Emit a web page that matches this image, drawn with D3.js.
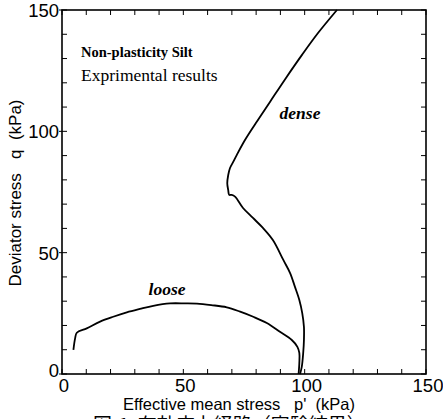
<!DOCTYPE html>
<html>
<head>
<meta charset="utf-8">
<script src="https://cdn.jsdelivr.net/npm/d3@7"></script>
<style>
  body { margin: 0; background: #fff; }
  svg { display: block; overflow: hidden; }
</style>
</head>
<body>
<div id="canvas"></div>
<script>
// values: [p', q] in kPa
const denseP = [98.1, 98.8, 99.4, 99.7, 99.7, 99.0, 97.8, 96.0, 94.0, 91.2, 86.9, 82.8, 78.7, 74.6, 71.3, 69.9, 68.9, 68.5, 68.1, 68.5, 69.2, 70.6, 72.0, 75.4, 79.9, 85.7, 92.3, 98.9, 105.5, 113.3];
const denseQ = [0, 2.9, 8.7, 14.0, 19.4, 25.1, 30.5, 35.9, 41.6, 47.0, 55.2, 60.2, 64.3, 68.4, 73.1, 73.8, 73.8, 75.8, 78.6, 82.0, 84.8, 87.5, 90.2, 96.4, 103.4, 112.1, 122.0, 131.5, 140.5, 150];
const looseP = [4.7, 5.4, 6.1, 10.2, 15.7, 21.1, 26.7, 32.1, 37.6, 44.5, 50.7, 55.6, 61.5, 67.9, 73.4, 78.8, 84.4, 89.8, 94.7, 97.0, 97.8, 97.8, 97.5];
const looseQ = [9.9, 14.7, 17.0, 18.8, 21.6, 23.6, 25.4, 26.8, 28.1, 29.1, 29.1, 29.0, 28.4, 27.5, 25.7, 23.6, 21.0, 17.4, 14.0, 11.2, 8.7, 4.5, 0];
const xTicks = [0, 50, 100, 150];
const yTicks = [0, 50, 100, 150];

const margin = { top: 10, right: 17, bottom: 45, left: 62 };
const W = 443, H = 419;
const width = W - margin.left - margin.right;
const height = H - margin.top - margin.bottom;

const svg = d3.select("#canvas").append("svg")
  .attr("width", W)
  .attr("height", H);

const g = svg.append("g")
  .attr("transform", `translate(${margin.left},${margin.top})`);

const x = d3.scaleLinear().domain([0, 150]).range([0, width]);
const y = d3.scaleLinear().domain([0, 150]).range([height, 0]);

const sans = "'Liberation Sans', Arial, sans-serif";
const serif = "'Liberation Serif', 'Times New Roman', serif";

// minor ticks every 10, inward on all four sides
const minor = d3.range(0, 151, 10);
const tickLen = 5;
g.selectAll(".xb").data(minor).enter().append("line")
  .attr("x1", d => x(d)).attr("x2", d => x(d))
  .attr("y1", height).attr("y2", height - tickLen)
  .attr("stroke", "#000").attr("stroke-width", 1);
g.selectAll(".xt").data(minor).enter().append("line")
  .attr("x1", d => x(d)).attr("x2", d => x(d))
  .attr("y1", 0).attr("y2", tickLen)
  .attr("stroke", "#000").attr("stroke-width", 1);
g.selectAll(".yl").data(minor).enter().append("line")
  .attr("x1", 0).attr("x2", tickLen)
  .attr("y1", d => y(d)).attr("y2", d => y(d))
  .attr("stroke", "#000").attr("stroke-width", 1);
g.selectAll(".yr").data(minor).enter().append("line")
  .attr("x1", width).attr("x2", width - tickLen)
  .attr("y1", d => y(d)).attr("y2", d => y(d))
  .attr("stroke", "#000").attr("stroke-width", 1);
// little outward marks at the labelled y ticks
g.selectAll(".ym").data(yTicks).enter().append("line")
  .attr("x1", -3).attr("x2", 0)
  .attr("y1", d => y(d)).attr("y2", d => y(d))
  .attr("stroke", "#000").attr("stroke-width", 1);

// frame
g.append("rect")
  .attr("width", width).attr("height", height)
  .attr("fill", "none").attr("stroke", "#000").attr("stroke-width", 1.6);

// tick labels
g.selectAll(".xl").data(xTicks).enter().append("text")
  .attr("x", d => x(d) + 2)
  .attr("y", height + 18)
  .attr("text-anchor", "middle")
  .style("font-family", sans).style("font-size", "18.5px")
  .text(d => d);

g.selectAll(".ylab").data(yTicks).enter().append("text")
  .attr("x", -3)
  .attr("y", d => y(d) + (d === 0 ? 3 : 7))
  .attr("text-anchor", "end")
  .style("font-family", sans).style("font-size", "18.5px")
  .text(d => d);

// curves
const line = d3.line()
  .x(d => x(d[0]))
  .y(d => y(d[1]))
  .curve(d3.curveCatmullRom.alpha(0.5));

const dense = denseP.map((p, i) => [p, denseQ[i]]);
const loose = looseP.map((p, i) => [p, looseQ[i]]);

g.append("path").datum(dense)
  .attr("d", line).attr("fill", "none")
  .attr("stroke", "#000").attr("stroke-width", 1.8);
g.append("path").datum(loose)
  .attr("d", line).attr("fill", "none")
  .attr("stroke", "#000").attr("stroke-width", 1.8);

// annotations
g.append("text")
  .attr("x", 81 - margin.left).attr("y", 57 - margin.top)
  .style("font-family", serif).style("font-size", "14.5px").style("font-weight", "bold")
  .text("Non-plasticity Silt");
g.append("text")
  .attr("x", 81 - margin.left).attr("y", 81 - margin.top)
  .style("font-family", serif).style("font-size", "17.5px")
  .text("Exprimental results");
g.append("text")
  .attr("x", 300 - margin.left).attr("y", 119 - margin.top)
  .attr("text-anchor", "middle")
  .style("font-family", serif).style("font-size", "17.5px")
  .style("font-weight", "bold").style("font-style", "italic")
  .text("dense");
g.append("text")
  .attr("x", 167 - margin.left).attr("y", 295 - margin.top)
  .attr("text-anchor", "middle")
  .style("font-family", serif).style("font-size", "17.5px")
  .style("font-weight", "bold").style("font-style", "italic")
  .text("loose");

// axis titles
svg.append("text")
  .attr("x", 239).attr("y", 410)
  .attr("text-anchor", "middle")
  .attr("xml:space", "preserve")
  .style("font-family", sans).style("font-size", "16.5px")
  .text("Effective mean stress   p'  (kPa)");

svg.append("text")
  .attr("transform", "translate(21,193) rotate(-90)")
  .attr("text-anchor", "middle")
  .attr("xml:space", "preserve")
  .style("font-family", sans).style("font-size", "17px")
  .text("Deviator stress   q  (kPa)");

// caption, cut off by the bottom edge
svg.append("text")
  .attr("x", 93).attr("y", 432)
  .attr("xml:space", "preserve")
  .style("font-family", "'Noto Sans CJK JP', sans-serif").style("font-size", "19px")
  .text("図-1  有効応力経路（実験結果）");
</script>
</body>
</html>
